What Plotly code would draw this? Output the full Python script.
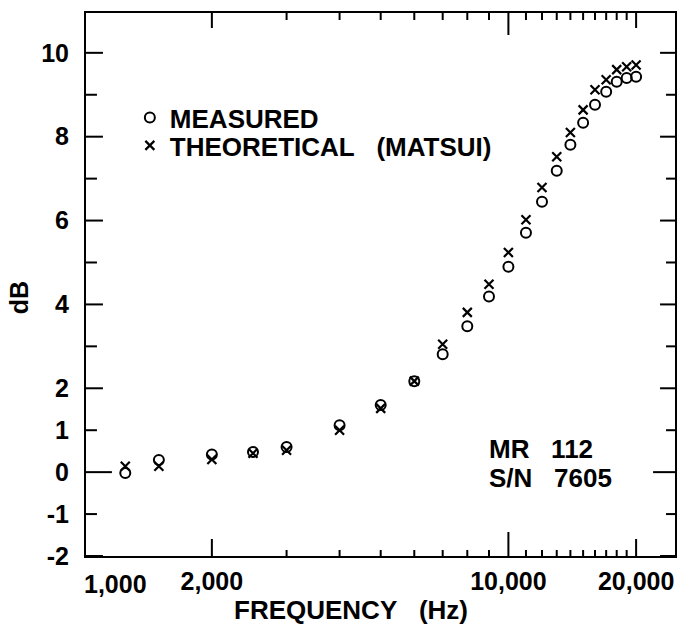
import math
import plotly.graph_objects as go

# ---- data ----
freq_hz = [1250, 1500, 2000, 2500, 3000, 4000, 5000, 6000, 7000, 8000, 9000,
           10000, 11000, 12000, 13000, 14000, 15000, 16000, 17000, 18000, 19000, 20000]
measured_db = [-0.02, 0.29, 0.42, 0.48, 0.60, 1.12, 1.60, 2.17, 2.81, 3.48, 4.19,
               4.90, 5.71, 6.45, 7.19, 7.81, 8.33, 8.76, 9.07, 9.31, 9.40, 9.43]
theoretical_db = [0.14, 0.14, 0.30, 0.45, 0.52, 1.00, 1.52, 2.17, 3.05, 3.81, 4.48,
                  5.24, 6.02, 6.79, 7.52, 8.10, 8.64, 9.12, 9.36, 9.60, 9.67, 9.71]

# tick labels / tick groups
x_label_vals = [2000, 10000, 20000]
x_label_text = ["2,000", "10,000", "20,000"]
x_first_label = "1,000"
x_mid_ticks = [2000, 20000]
x_long_ticks = [10000]
x_minor_ticks = [3000, 4000, 5000, 6000, 7000, 8000, 9000,
                 11000, 12000, 13000, 14000, 15000, 16000, 17000, 18000, 19000]

y_label_vals = [-2, -1, 0, 1, 2, 4, 6, 8, 10]
y_long_ticks = [-2, 2, 4, 6, 8, 10]
y_zero_ticks = [0]
y_short_ticks = [-1, 1, 3, 5, 7, 9]

x_range = [1010, 24700]
y_range = [-2, 10.95]

# ---- styling ----
FONT = "Liberation Sans, Arial, Helvetica, sans-serif"
BLACK = "black"
W, H = 678, 626
ML, MR, MT, MB = 86, 1, 13, 70
PW, PH = W - ML - MR, H - MT - MB
lx0, lx1 = math.log10(x_range[0]), math.log10(x_range[1])
PPX = PW / (lx1 - lx0)              # pixels per decade
PPY = PH / (y_range[1] - y_range[0])  # pixels per dB

fig = go.Figure()

# ---- inward tick marks on all four sides (built from the tick groups) ----
def x_tick_trace(vals, bottom_px, top_px):
    xs, ys = [], []
    for v in vals:
        xs += [v, v, None, v, v, None]
        ys += [y_range[0], y_range[0] + bottom_px / PPY, None,
               y_range[1], y_range[1] - top_px / PPY, None]
    return go.Scatter(x=xs, y=ys, mode="lines", line=dict(color=BLACK, width=2),
                      showlegend=False, hoverinfo="skip")

def y_tick_trace(vals, left_px, right_px):
    xs, ys = [], []
    for v in vals:
        xs += [x_range[0], 10 ** (lx0 + left_px / PPX), None,
               x_range[1], 10 ** (lx1 - right_px / PPX), None]
        ys += [v, v, None, v, v, None]
    return go.Scatter(x=xs, y=ys, mode="lines", line=dict(color=BLACK, width=2),
                      showlegend=False, hoverinfo="skip")

fig.add_trace(x_tick_trace(x_mid_ticks, 17, 15))
fig.add_trace(x_tick_trace(x_long_ticks, 24, 22))
fig.add_trace(x_tick_trace(x_minor_ticks, 6, 7))
fig.add_trace(y_tick_trace(y_long_ticks, 17, 15))
fig.add_trace(y_tick_trace(y_zero_ticks, 26, 22))
fig.add_trace(y_tick_trace(y_short_ticks, 11, 9))

# ---- data series ----
fig.add_trace(go.Scatter(
    x=freq_hz, y=measured_db, mode="markers", name="MEASURED", legend="legend",
    marker=dict(symbol="circle-open", size=10, color=BLACK, line=dict(width=2, color=BLACK)),
))
fig.add_trace(go.Scatter(
    x=freq_hz, y=theoretical_db, mode="markers", legend="legend2",
    name="THEORETICAL\u00a0\u00a0\u00a0(MATSUI)",
    marker=dict(symbol="x-thin-open", size=9, color=BLACK, line=dict(width=2.2, color=BLACK)),
))

tickfont = dict(family=FONT, size=25, color=BLACK, weight="bold")
legfont = dict(family=FONT, size=26, color=BLACK, weight="bold")

fig.update_layout(
    width=W, height=H,
    margin=dict(l=ML, r=MR, t=MT, b=MB),
    paper_bgcolor="white", plot_bgcolor="white",
    font=dict(family=FONT, color=BLACK),
    xaxis=dict(
        type="log", range=[lx0, lx1],
        showgrid=False, zeroline=False,
        showline=True, linecolor=BLACK, linewidth=2, mirror=True,
        tickmode="array", tickvals=x_label_vals, ticktext=x_label_text,
        ticks="", tickfont=tickfont, ticklabelstandoff=2,
    ),
    yaxis=dict(
        range=y_range, showgrid=False, zeroline=False,
        showline=True, linecolor=BLACK, linewidth=2, mirror=True,
        tickmode="array", tickvals=y_label_vals, ticktext=[str(v) for v in y_label_vals],
        ticks="", tickfont=tickfont, ticklabelstandoff=10,
    ),
    showlegend=True,
    legend=dict(x=(130 - ML) / PW, y=(MT + PH - 94) / PH, xanchor="left", yanchor="top",
                bgcolor="rgba(0,0,0,0)", borderwidth=0, font=legfont),
    legend2=dict(x=(130 - ML) / PW, y=(MT + PH - 122) / PH, xanchor="left", yanchor="top",
                 bgcolor="rgba(0,0,0,0)", borderwidth=0, font=legfont),
)

# ---- texts ----
fig.add_annotation(x=0, xref="paper", y=0, yref="paper",
                   text=x_first_label, showarrow=False, xanchor="left", yanchor="top",
                   xshift=-4, yshift=-12, font=tickfont)
fig.add_annotation(x=(352 - ML) / PW, xref="paper", y=-(610 - MT - PH) / PH, yref="paper",
                   text="FREQUENCY\u00a0\u00a0\u00a0(Hz)", showarrow=False,
                   xanchor="center", yanchor="middle",
                   font=dict(family=FONT, size=26, color=BLACK, weight="bold"))
fig.add_annotation(x=-(ML - 19) / PW, xref="paper", y=(MT + PH - 298) / PH, yref="paper",
                   text="dB", textangle=-90, showarrow=False,
                   xanchor="center", yanchor="middle",
                   font=dict(family=FONT, size=25, color=BLACK, weight="bold"))
note_font = dict(family=FONT, size=26, color=BLACK, weight="bold")
fig.add_annotation(x=(488 - ML) / PW, xref="paper", y=(MT + PH - 449) / PH, yref="paper",
                   text="MR\u00a0\u00a0\u00a0112", showarrow=False, xanchor="left", yanchor="middle",
                   font=note_font)
fig.add_annotation(x=(488 - ML) / PW, xref="paper", y=(MT + PH - 478) / PH, yref="paper",
                   text="S/N\u00a0\u00a0\u00a07605", showarrow=False, xanchor="left", yanchor="middle",
                   font=note_font)

fig.write_html("out.html", config={"displayModeBar": False},
               post_script="document.body.style.margin='0';")
